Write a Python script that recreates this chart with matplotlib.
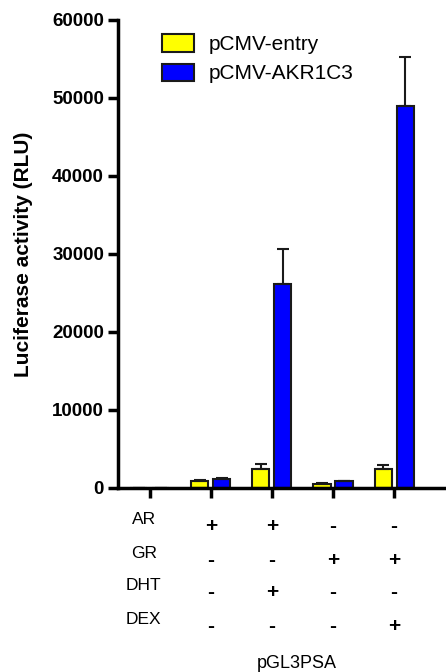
import matplotlib
matplotlib.use("Agg")
import matplotlib.pyplot as plt
import numpy as np
from matplotlib.transforms import blended_transform_factory

plt.rcParams["font.family"] = ["Liberation Sans", "DejaVu Sans"]

# Data
groups = [0, 1, 2, 3, 4]
entry_vals = [0, 900, 2450, 450, 2450]
entry_err = [0, 100, 600, 150, 500]
akr_vals = [0, 1150, 26100, 850, 48950]
akr_err = [0, 150, 4600, 100, 6300]
series_labels = ["pCMV-entry", "pCMV-AKR1C3"]

row_labels = ["AR", "GR", "DHT", "DEX"]
signs = [
    ["", "+", "+", "-", "-"],
    ["", "-", "-", "+", "+"],
    ["", "-", "+", "-", "-"],
    ["", "-", "-", "-", "+"],
]
group_caption = "pGL3PSA"
yticks = [0, 10000, 20000, 30000, 40000, 50000, 60000]

W, H = 446, 672
fig = plt.figure(figsize=(W / 100, H / 100), dpi=100)
ax = fig.add_axes([118 / W, 1 - 488 / H, (W - 118) / W, 468 / H])

x = np.array(groups, dtype=float)
width = 0.28
offset = 0.18
edge_kw = dict(edgecolor="#1a1a1a", linewidth=1.5)
err_kw = dict(ecolor="#1a1a1a", elinewidth=1.5, capthick=1.5, capsize=4)

ax.bar(
    x - offset,
    entry_vals,
    width,
    color="#ffff00",
    yerr=[np.zeros(len(entry_err)), entry_err],
    error_kw=err_kw,
    label=series_labels[0],
    **edge_kw,
)
ax.bar(
    x + offset,
    akr_vals,
    width,
    color="#0000ff",
    yerr=[np.zeros(len(akr_err)), akr_err],
    error_kw=err_kw,
    label=series_labels[1],
    **edge_kw,
)

ax.set_xlim(-0.52, 4.85)
ax.set_ylim(0, 60000)
ax.set_yticks(yticks)
ax.set_yticklabels([str(v) for v in yticks], fontweight="bold", fontsize=13.5)
ax.set_xticks(groups)
ax.set_xticklabels([])

for side in ["top", "right"]:
    ax.spines[side].set_visible(False)
for side in ["left", "bottom"]:
    ax.spines[side].set_linewidth(2.5)
ax.tick_params(axis="both", direction="out", length=7, width=2.5, pad=3)

ax.set_ylabel("Luciferase activity (RLU)", fontsize=15, fontweight="bold", labelpad=14)

# legend
ax.legend(
    loc="upper left",
    bbox_to_anchor=(152 / W, 1 - 24 / H),
    bbox_transform=fig.transFigure,
    frameon=False,
    fontsize=15,
    handlelength=1.5,
    handleheight=0.9,
    handletextpad=0.7,
    labelspacing=0.45,
    borderpad=0,
)

# condition table under the x axis
trans = blended_transform_factory(ax.transData, fig.transFigure)
label_y = [520, 553, 586, 620]
for r, lab in enumerate(row_labels):
    ax.text(-0.1, 1 - label_y[r] / H, lab, transform=trans, ha="center", va="center",
            fontsize=12.5, clip_on=False)
    for g in groups:
        s = signs[r][g]
        if s:
            ax.text(g, 1 - (label_y[r] + 7) / H, s, transform=trans, ha="center",
                    va="center", fontsize=15, fontweight="bold", clip_on=False)

ax.text(2.4, 1 - 663 / H, group_caption, transform=trans, ha="center", va="center",
        fontsize=13, clip_on=False)

fig.savefig("out.png", dpi=100)
